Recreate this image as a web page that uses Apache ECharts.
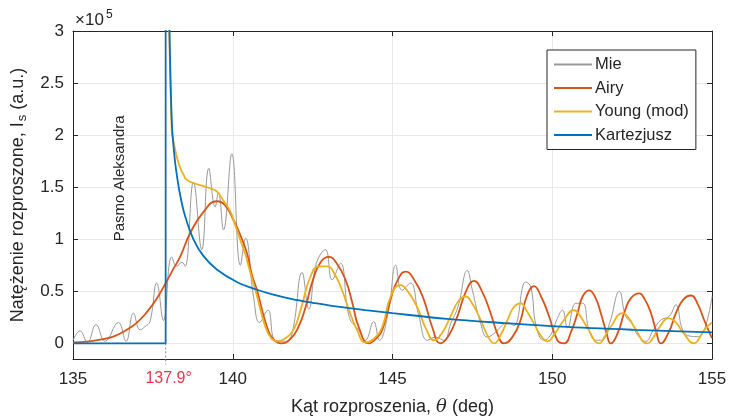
<!DOCTYPE html>
<html><head><meta charset="utf-8">
<script src="https://cdn.jsdelivr.net/npm/echarts@6/dist/echarts.min.js"></script>
<style>html,body{margin:0;padding:0;background:#fff}#c{width:729px;height:417px}</style>
</head><body><div id="c"></div>
<script>
// ---- data (intensity in units of 1e5, angle in deg) ----
const xTickLabels = ['135', '140', '145', '150', '155'];
const rainbowAngle = 137.9;

const mieData = [
  [135.0,0.03],[135.22,0.12],[135.45,0.01],[135.72,0.18],[136.0,0.02],[136.42,0.20],[136.66,0.02],
  [136.89,0.29],[137.1,0.13],[137.25,0.16],[137.41,0.21],[137.62,0.58],[137.83,0.22],[138.09,0.83],
  [138.25,0.74],[138.41,0.78],[138.51,0.74],[138.77,1.55],[139.03,0.90],[139.25,1.68],[139.45,1.31],
  [139.55,1.45],[139.71,1.09],[139.97,1.82],[140.24,0.75],[140.40,1.01],[140.65,0.45],[140.84,0.20],
  [141.1,0.32],[141.33,0.03],[141.65,0.02],[141.86,0.10],[142.17,0.68],[142.38,0.33],[142.62,0.77],
  [142.9,0.90],[143.11,0.61],[143.37,0.77],[143.65,0.25],[143.94,0.13],[144.15,0.03],[144.41,0.21],
  [144.59,0.03],[144.88,0.32],[145.1,0.75],[145.3,0.51],[145.56,0.58],[145.82,0.27],[146.09,0.03],
  [146.35,0.06],[146.61,0.03],[146.82,0.19],[147.05,0.35],[147.34,0.70],[147.5,0.51],[147.76,0.19],
  [147.97,0.06],[148.2,0.10],[148.39,0.16],[148.6,0.20],[148.8,0.17],[149.17,0.59],[149.33,0.54],
  [149.5,0.16],[149.74,0.03],[149.95,0.08],[150.16,0.24],[150.32,0.32],[150.48,0.15],[150.74,0.385],
  [150.95,0.385],[151.15,0.13],[151.36,0.03],[151.55,0.03],[151.8,0.20],[152.1,0.50],[152.3,0.26],
  [152.5,0.19],[152.67,0.08],[152.93,0.02],[153.15,0.12],[153.4,0.225],[153.66,0.26],[153.87,0.37],
  [154.08,0.13],[154.3,0.07],[154.55,0.065],[154.76,0.13],[155.0,0.45]
];

const airyData = [
  [135.0,0.01],[135.5,0.02],[135.95,0.04],[136.3,0.07],[136.68,0.13],[137.0,0.20],[137.31,0.30],
  [137.62,0.43],[137.92,0.59],[138.15,0.72],[138.35,0.83],[138.67,1.06],[139.08,1.26],[139.5,1.365],
  [139.75,1.33],[140.03,1.18],[140.25,1.03],[140.45,0.86],[140.6,0.66],[140.76,0.51],[141.07,0.16],
  [141.3,0.03],[141.52,0.0],[141.8,0.04],[142.06,0.16],[142.28,0.35],[142.5,0.60],[142.75,0.78],
  [143.0,0.83],[143.25,0.77],[143.53,0.61],[143.75,0.38],[143.94,0.16],[144.26,0.0],[144.5,0.05],
  [144.68,0.13],[144.94,0.42],[145.15,0.60],[145.41,0.69],[145.7,0.60],[145.98,0.42],[146.25,0.15],
  [146.5,0.0],[146.75,0.07],[147.03,0.26],[147.3,0.50],[147.55,0.60],[147.8,0.50],[148.07,0.29],
  [148.3,0.08],[148.49,0.0],[148.75,0.06],[149.01,0.225],[149.2,0.45],[149.43,0.55],[149.65,0.45],
  [149.9,0.26],[150.16,0.03],[150.37,0.0],[150.6,0.12],[150.79,0.29],[150.95,0.45],[151.15,0.51],
  [151.35,0.44],[151.52,0.29],[151.7,0.10],[151.83,0.0],[152.05,0.10],[152.25,0.29],[152.45,0.43],
  [152.72,0.48],[152.9,0.42],[153.09,0.29],[153.25,0.12],[153.4,0.0],[153.65,0.11],[153.87,0.29],
  [154.1,0.42],[154.34,0.46],[154.55,0.38],[154.76,0.22],[155.0,0.05]
];

const youngData = [
  [138.0,3.2],[138.09,2.04],[138.14,1.95],[138.25,1.79],[138.35,1.69],[138.46,1.62],[138.56,1.57],
  [138.77,1.54],[138.98,1.52],[139.29,1.49],[139.5,1.46],[139.71,1.37],[139.92,1.27],[140.05,1.16],
  [140.24,0.99],[140.39,0.86],[140.55,0.68],[140.71,0.51],[141.02,0.16],[141.2,0.05],[141.39,0.02],
  [141.6,0.04],[141.9,0.13],[142.15,0.35],[142.43,0.64],[142.7,0.74],[142.95,0.74],[143.2,0.66],
  [143.42,0.51],[143.65,0.31],[143.89,0.13],[144.15,0.01],[144.4,0.04],[144.68,0.16],[144.94,0.45],
  [145.25,0.56],[145.5,0.49],[145.77,0.35],[146.05,0.14],[146.3,0.03],[146.55,0.10],[146.82,0.26],
  [147.05,0.40],[147.29,0.45],[147.5,0.38],[147.76,0.225],[148.0,0.06],[148.18,0.0],[148.4,0.09],
  [148.6,0.225],[148.8,0.35],[149.01,0.385],[149.2,0.31],[149.43,0.19],[149.65,0.07],[149.85,0.02],
  [150.05,0.08],[150.37,0.225],[150.68,0.32],[150.9,0.25],[151.1,0.15],[151.47,0.0],[151.65,0.07],
  [151.83,0.16],[152.2,0.29],[152.4,0.24],[152.56,0.16],[152.98,0.0],[153.15,0.05],[153.3,0.13],
  [153.66,0.24],[153.9,0.19],[154.08,0.11],[154.45,0.0],[154.6,0.05],[154.76,0.13],[155.0,0.20]
];

const cartStepData = [[135.0,0],[137.9,0],[137.9,3.5]];
const cartDecayData = [
  [137.99,3.5],[138.02,3.0],[138.06,2.45],[138.1,2.08],[138.15,1.88],[138.22,1.68],[138.35,1.43],
  [138.51,1.22],[138.77,1.0],[139.08,0.84],[139.5,0.71],[140.13,0.59],[140.71,0.52],[141.3,0.465],
  [141.86,0.425],[142.5,0.39],[143.11,0.36],[144.15,0.32],[145.0,0.29],[146.71,0.235],[148.49,0.195],
  [150.27,0.16],[152.56,0.13],[155.0,0.105]
];
const markerData = [[rainbowAngle,0],[rainbowAngle,-0.2]];

// ---- chart ----
const FONT = '"Liberation Sans", Arial, Helvetica, sans-serif';
const AX = '#262626';
const chart = echarts.init(document.getElementById('c'));

const baseX = {
  type: 'value', min: 135, max: 155, interval: 5,
  axisLine: { show: true, onZero: false, lineStyle: { color: AX, width: 1 } },
  axisTick: { show: true, inside: true, length: 5, lineStyle: { color: AX } },
};
const baseY = {
  type: 'value', min: -0.15, max: 3, splitNumber: 6,
  axisLine: { show: true, onZero: false, lineStyle: { color: AX, width: 1 } },
  axisTick: { show: true, inside: true, length: 5, lineStyle: { color: AX } },
};

chart.setOption({
  animation: false,
  backgroundColor: '#fff',
  textStyle: { fontFamily: FONT },
  grid: { left: 73, right: 17, top: 31, bottom: 58, containLabel: false, outerBoundsMode: 'none' },
  xAxis: [
    Object.assign({}, baseX, {
      position: 'bottom',
      axisLabel: { fontSize: 17, color: AX, margin: 12, fontFamily: FONT,
        formatter: v => xTickLabels[Math.round((v - 135) / 5)] },
      splitLine: { show: true, lineStyle: { color: '#e9e9e9', width: 1 } },
      name: 'Kąt rozproszenia, {i|θ} (deg)', nameLocation: 'middle', nameGap: 39,
      nameTextStyle: { fontSize: 18, color: AX, fontFamily: FONT,
        rich: { i: { fontStyle: 'italic', fontSize: 18, color: AX, fontFamily: '"DejaVu Serif", serif' } } }
    }),
    Object.assign({}, baseX, { position: 'top', axisLabel: { show: false }, splitLine: { show: false } })
  ],
  yAxis: [
    Object.assign({}, baseY, {
      position: 'left',
      axisLabel: { fontSize: 17, color: AX, margin: 9, fontFamily: FONT, showMinLabel: false,
        formatter: v => (v < 0 ? '' : String(v)) },
      splitLine: { show: true, lineStyle: { color: '#e9e9e9', width: 1 } },
      name: 'Natężenie rozproszone, I{s|s} (a.u.)', nameLocation: 'middle', nameGap: 44, nameRotate: 90,
      nameTextStyle: { fontSize: 18, color: AX, fontFamily: FONT,
        rich: { s: { fontSize: 13, color: AX, fontFamily: FONT, padding: [9, 0, 0, 1] } } }
    }),
    Object.assign({}, baseY, { position: 'right', axisLabel: { show: false }, splitLine: { show: false } })
  ],
  legend: {
    data: ['Mie', 'Airy', 'Young (mod)', 'Kartezjusz'],
    orient: 'vertical', left: 547, top: 50,
    padding: [6, 7, 6, 6], itemGap: 6.5, itemWidth: 38, itemHeight: 15,
    backgroundColor: '#fff', borderColor: AX, borderWidth: 1, borderRadius: 0,
    itemStyle: { opacity: 0 },
    textStyle: { fontSize: 16.5, color: AX, fontFamily: FONT, padding: [0, 0, 0, -2] },
    selectedMode: false
  },
  series: [
    { name: 'Mie', type: 'line', data: mieData, symbol: 'none', smooth: 0.45,
      lineStyle: { color: '#999999', width: 1 }, itemStyle: { color: '#999999' }, z: 2 },
    { name: 'Airy', type: 'line', data: airyData, symbol: 'none', smooth: 0.5,
      lineStyle: { color: '#D95319', width: 1.8 }, itemStyle: { color: '#D95319' }, z: 3 },
    { name: 'Young (mod)', type: 'line', data: youngData, symbol: 'none', smooth: 0.5,
      lineStyle: { color: '#EDB120', width: 1.8 }, itemStyle: { color: '#EDB120' }, z: 4 },
    { name: 'Kartezjusz', type: 'line', data: cartStepData, symbol: 'none',
      lineStyle: { color: '#0072BD', width: 1.8 }, itemStyle: { color: '#0072BD' }, z: 5 },
    { name: 'Kartezjusz', type: 'line', data: cartDecayData, symbol: 'none', smooth: 0.35,
      lineStyle: { color: '#0072BD', width: 1.8 }, itemStyle: { color: '#0072BD' }, z: 5 },
    { name: 'marker', type: 'line', data: markerData, symbol: 'none', clip: false,
      lineStyle: { color: '#888', width: 1, type: [2, 2] }, z: 1 }
  ]
});

const pBand = chart.convertToPixel({ xAxisIndex: 0, yAxisIndex: 0 }, [136.47, 1.585]);
const pMark = chart.convertToPixel({ xAxisIndex: 0, yAxisIndex: 0 }, [rainbowAngle, -0.15]);
const pTop = chart.convertToPixel({ xAxisIndex: 0, yAxisIndex: 0 }, [135, 3]);

chart.setOption({
  graphic: [
    { type: 'text', x: pBand[0], y: pBand[1], rotation: Math.PI / 2, z: 10,
      style: { text: 'Pasmo Aleksandra', fontSize: 15, fontFamily: FONT, fill: AX,
        align: 'center', verticalAlign: 'middle' } },
    { type: 'text', x: pMark[0] + 3, y: pMark[1] + 20, z: 10,
      style: { text: '137.9°', fontSize: 16, fontFamily: FONT, fill: '#E8364A',
        align: 'center', verticalAlign: 'middle' } },
    { type: 'text', x: pTop[0] + 2, y: pTop[1] - 2, z: 10,
      style: { text: '×10', fontSize: 17, fontFamily: FONT, fill: AX,
        align: 'left', verticalAlign: 'bottom' } },
    { type: 'text', x: pTop[0] + 33, y: pTop[1] - 10, z: 10,
      style: { text: '5', fontSize: 12, fontFamily: FONT, fill: AX,
        align: 'left', verticalAlign: 'bottom' } }
  ]
});
</script></body></html>
